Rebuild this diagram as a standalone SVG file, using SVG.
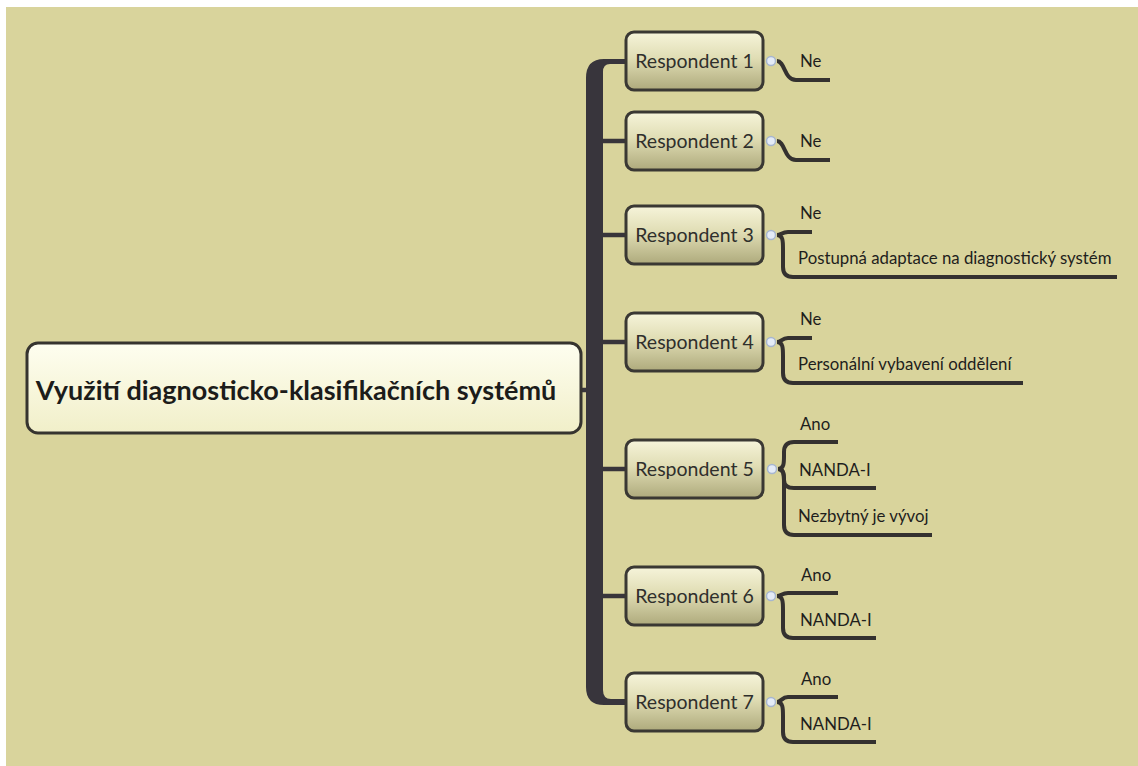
<svg xmlns="http://www.w3.org/2000/svg" width="1138" height="766" viewBox="0 0 1138 766">
  <defs>
    <linearGradient id="gResp" x1="0" y1="0" x2="0" y2="1">
      <stop offset="0" stop-color="#f6f4da"/>
      <stop offset="0.45" stop-color="#e0ddb4"/>
      <stop offset="1" stop-color="#aeaa7c"/>
    </linearGradient>
    <linearGradient id="gRoot" x1="0" y1="0" x2="0" y2="1">
      <stop offset="0" stop-color="#fefef0"/>
      <stop offset="1" stop-color="#f1efc9"/>
    </linearGradient>
    <style>
      .box { fill: url(#gResp); stroke: #3a3833; stroke-width: 3; }
      .label { font-family: Lato, "Open Sans", sans-serif; font-size: 19.5px; fill: #2f2f2c; text-anchor: middle; }
      .leaf { font-family: Lato, "Open Sans", sans-serif; font-size: 16.8px; fill: #1e1e1c; text-anchor: start; }
      .sub { fill: none; stroke: #34312f; stroke-width: 4; stroke-linecap: butt; }
      .stem { fill: none; stroke: #38353a; stroke-width: 4.5; }
      .knob { fill: #e4ebf6; stroke: #a7b6cf; stroke-width: 1.5; }
    </style>
  </defs>

  <!-- paper -->
  <rect x="0" y="0" width="1138" height="766" fill="#ffffff"/>
  <rect x="6" y="7" width="1132" height="759" fill="#d9d49c"/>

  <g id="connectors">
    <!-- trunk -->
    <path d="M586 78 Q586 59 604 59 L626 59 L626 64 L610 64 Q603 64 603 72 L603 690 Q603 699 611 699 L626 699 L626 705 L604 705 Q586 705 586 687 Z" fill="#38353c"/>
    <line class="stem" x1="580" y1="390" x2="588" y2="390"/>
    <line class="stem" x1="600" y1="141" x2="626" y2="141"/>
    <line class="stem" x1="600" y1="235" x2="626" y2="235"/>
    <line class="stem" x1="600" y1="342" x2="626" y2="342"/>
    <line class="stem" x1="600" y1="469" x2="626" y2="469"/>
    <line class="stem" x1="600" y1="596" x2="626" y2="596"/>

    <!-- leaf branches -->
    <path class="sub" d="M777 61 C785 61 784 80 796 80 H830"/>
    <path class="sub" d="M777 141 C785 141 784 160 796 160 H830"/>
    <path class="sub" d="M777 235 C781 235 782 232 788 232 H812"/>
    <path class="sub" d="M777 235 C783 235 783 241 783 249 V267 Q783 277 793 277 H1117"/>
    <path class="sub" d="M777 342 C781 342 782 338 788 338 H812"/>
    <path class="sub" d="M777 342 C783 342 783 348 783 356 V373 Q783 383 793 383 H1023"/>
    <path class="sub" d="M778 469 C784 469 784 463 784 456 V452 Q784 442 794 442 H838"/>
    <path class="sub" d="M778 469 C784 469 784 475 784 480 Q784 488 794 488 H876"/>
    <path class="sub" d="M778 469 C784 469 784 475 784 483 V525 Q784 535 794 535 H932"/>
    <path class="sub" d="M777 596 C781 596 782 593 788 593 H838"/>
    <path class="sub" d="M777 596 C783 596 783 602 783 610 V628 Q783 638 793 638 H876"/>
    <path class="sub" d="M777 702 C781 702 782 697 788 697 H838"/>
    <path class="sub" d="M777 702 C783 702 783 708 783 716 V732 Q783 742 793 742 H876"/>
  </g>

  <g id="root">
    <rect x="27" y="343" width="554" height="90" rx="11" fill="url(#gRoot)" stroke="#36342f" stroke-width="3"/>
    <text x="296" y="400" font-family="Lato, Open Sans, sans-serif" font-size="27" font-weight="700" fill="#1c1c1a" text-anchor="middle">Využití diagnosticko-klasifikačních systémů</text>
  </g>

  <g id="respondent-1">
    <rect class="box" x="626" y="32" width="137" height="58" rx="8"/>
    <text class="label" x="694.5" y="68">Respondent 1</text>
    <circle class="knob" cx="771" cy="61" r="4.5"/>
    <text class="leaf" x="800" y="67">Ne</text>
  </g>
  <g id="respondent-2">
    <rect class="box" x="626" y="112" width="137" height="58" rx="8"/>
    <text class="label" x="694.5" y="148">Respondent 2</text>
    <circle class="knob" cx="771" cy="141" r="4.5"/>
    <text class="leaf" x="800" y="147">Ne</text>
  </g>
  <g id="respondent-3">
    <rect class="box" x="626" y="206" width="137" height="58" rx="8"/>
    <text class="label" x="694.5" y="242">Respondent 3</text>
    <circle class="knob" cx="771" cy="235" r="4.5"/>
    <text class="leaf" x="800" y="219">Ne</text>
    <text class="leaf" x="798" y="264">Postupná adaptace na diagnostický systém</text>
  </g>
  <g id="respondent-4">
    <rect class="box" x="626" y="313" width="137" height="58" rx="8"/>
    <text class="label" x="694.5" y="349">Respondent 4</text>
    <circle class="knob" cx="771" cy="342" r="4.5"/>
    <text class="leaf" x="800" y="325">Ne</text>
    <text class="leaf" x="798" y="370">Personální vybavení oddělení</text>
  </g>
  <g id="respondent-5">
    <rect class="box" x="626" y="440" width="137" height="58" rx="8"/>
    <text class="label" x="694.5" y="476">Respondent 5</text>
    <circle class="knob" cx="772" cy="469" r="4.5"/>
    <text class="leaf" x="800" y="430">Ano</text>
    <text class="leaf" x="799" y="476">NANDA-I</text>
    <text class="leaf" x="798" y="522">Nezbytný je vývoj</text>
  </g>
  <g id="respondent-6">
    <rect class="box" x="626" y="567" width="137" height="58" rx="8"/>
    <text class="label" x="694.5" y="603">Respondent 6</text>
    <circle class="knob" cx="771" cy="596" r="4.5"/>
    <text class="leaf" x="801" y="581">Ano</text>
    <text class="leaf" x="800" y="626">NANDA-I</text>
  </g>
  <g id="respondent-7">
    <rect class="box" x="626" y="673" width="137" height="58" rx="8"/>
    <text class="label" x="694.5" y="709">Respondent 7</text>
    <circle class="knob" cx="771" cy="702" r="4.5"/>
    <text class="leaf" x="801" y="685">Ano</text>
    <text class="leaf" x="800" y="730">NANDA-I</text>
  </g>
</svg>
